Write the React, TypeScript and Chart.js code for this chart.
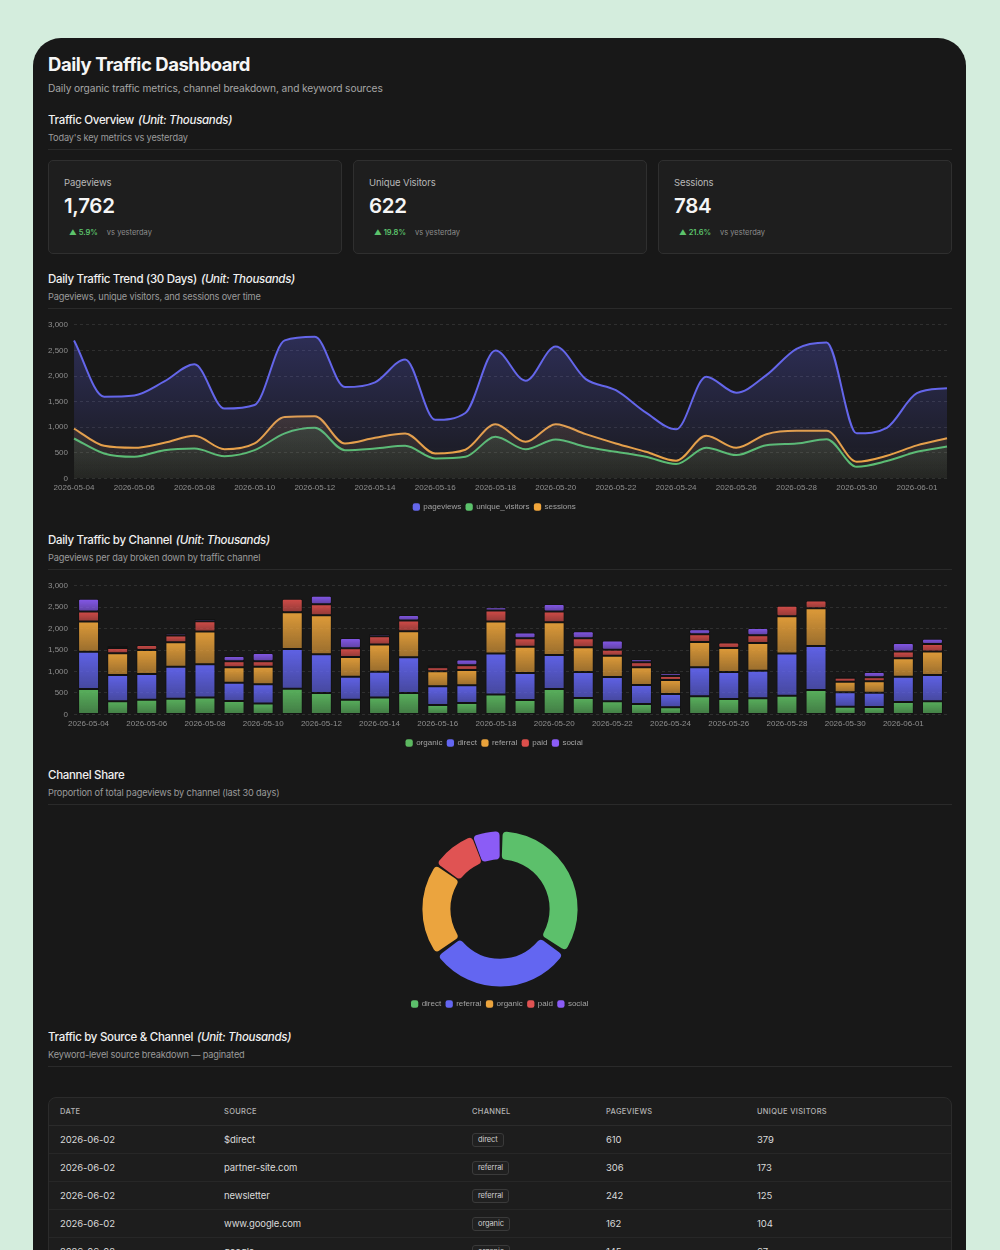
import React, { useEffect, useRef } from "react";
import { Chart, registerables } from "chart.js";

Chart.register(...registerables);

// ---- data ----
const days = [
  "2026-05-04", "2026-05-05", "2026-05-06", "2026-05-07", "2026-05-08", "2026-05-09",
  "2026-05-10", "2026-05-11", "2026-05-12", "2026-05-13", "2026-05-14", "2026-05-15",
  "2026-05-16", "2026-05-17", "2026-05-18", "2026-05-19", "2026-05-20", "2026-05-21",
  "2026-05-22", "2026-05-23", "2026-05-24", "2026-05-25", "2026-05-26", "2026-05-27",
  "2026-05-28", "2026-05-29", "2026-05-30", "2026-05-31", "2026-06-01", "2026-06-02",
];

const pageviews = [
  2695, 1597, 1620, 1893, 2228, 1363, 1433, 2695, 2765, 1784, 1877, 2321, 1145, 1278, 2500,
  1909, 2578, 1940, 1722, 1285, 958, 1987, 1675, 2018, 2532, 2656, 880, 989, 1664, 1762,
];
const uniqueVisitors = [
  779, 487, 422, 552, 584, 435, 552, 880, 987, 552, 584, 636, 390, 422, 812,
  571, 760, 617, 520, 422, 279, 597, 455, 649, 682, 766, 227, 338, 519, 622,
];
const sessions = [
  974, 636, 597, 695, 831, 571, 682, 1201, 1214, 682, 792, 877, 487, 560, 1059,
  714, 1059, 864, 682, 520, 344, 831, 597, 864, 929, 929, 325, 442, 645, 784,
];

const organic = [
  592, 304, 343, 366, 397, 312, 257, 600, 499, 343, 397, 499, 218, 265, 467,
  335, 592, 382, 304, 241, 164, 421, 358, 374, 436, 569, 179, 171, 288, 307,
];
const direct = [
  872, 615, 600, 748, 772, 428, 444, 927, 903, 537, 600, 833, 436, 413, 951,
  631, 795, 607, 568, 445, 311, 677, 631, 646, 982, 1028, 335, 335, 592, 610,
];
const referral = [
  702, 507, 560, 569, 763, 358, 413, 857, 912, 460, 631, 608, 351, 358, 748,
  615, 763, 577, 499, 412, 327, 592, 561, 647, 872, 880, 249, 265, 429, 548,
];
const paid = [
  234, 124, 117, 155, 241, 141, 125, 311, 257, 202, 195, 249, 93, 109, 257,
  195, 249, 210, 140, 117, 94, 180, 125, 179, 242, 179, 94, 94, 156, 179,
];
const social = [
  295, 47, 0, 55, 55, 124, 194, 0, 194, 242, 54, 132, 47, 133, 77,
  133, 179, 164, 211, 70, 62, 117, 0, 172, 0, 0, 23, 124, 199, 118,
];

const channelNames = ["organic", "direct", "referral", "paid", "social"];
const channelSeries = [organic, direct, referral, paid, social];
const channelRGB = ["92,184,96", "99,102,241", "233,162,59", "220,79,75", "139,92,246"];

const shareLabels = ["direct", "referral", "organic", "paid", "social"];
const shareSeries = [direct, referral, organic, paid, social];
const shareColors = ["#5cc06b", "#6366f1", "#eba43e", "#e05353", "#8b5cf6"];

const kpiLabels = ["Pageviews", "Unique Visitors", "Sessions"];
const kpiValues = ["1,762", "622", "784"];
const kpiChanges = ["5.9%", "19.8%", "21.6%"];

const tableDates = ["2026-06-02", "2026-06-02", "2026-06-02", "2026-06-02", "2026-06-02"];
const tableSources = ["$direct", "partner-site.com", "newsletter", "www.google.com", "google"];
const tableChannels = ["direct", "referral", "referral", "organic", "organic"];
const tablePageviews = [610, 306, 242, 162, 145];
const tableVisitors = [379, 173, 125, 104, 67];

// ---- shared chart styling ----
const FONT = "Inter, 'Noto Sans', 'DejaVu Sans', sans-serif";
const CHART_FONT = "'Helvetica Neue', Helvetica, Arial, 'Liberation Sans', sans-serif";
Chart.defaults.font.family = CHART_FONT;
Chart.defaults.color = "#8f8f8f";

const TICK = "#8e8e8e";

const gridY = {
  color: "rgba(255,255,255,0.10)",
  drawTicks: false,
};

const legendOpts = (items: { text: string; color: string }[]) => ({
  position: "bottom" as const,
  labels: {
    usePointStyle: true,
    pointStyle: "rectRounded",
    boxWidth: 6,
    boxHeight: 6,
    padding: 5,
    color: "#a3a3a3",
    font: { size: 8 },
    generateLabels: () =>
      items.map((it, i) => ({
        text: it.text,
        fillStyle: it.color,
        strokeStyle: it.color,
        fontColor: "#a3a3a3",
        lineWidth: 0,
        pointStyle: "rectRounded",
        hidden: false,
        datasetIndex: i,
        index: i,
      })),
  },
});

const areaFill = (rgb: string, topA: number, botA: number) => (ctx: any) => {
  const chart = ctx.chart;
  const a = chart.chartArea;
  if (!a) return `rgba(${rgb},${topA})`;
  const g = chart.ctx.createLinearGradient(0, a.top, 0, a.bottom);
  g.addColorStop(0, `rgba(${rgb},${topA})`);
  g.addColorStop(1, `rgba(${rgb},${botA})`);
  return g;
};

// each stacked segment fades from bright top to a deeper bottom
const segmentFill = (d: number) => (ctx: any) => {
  const rgb = channelRGB[d];
  const chart = ctx.chart;
  const solid = `rgba(${rgb},0.95)`;
  if (!chart.chartArea || ctx.type !== "data") return solid;
  const y = chart.scales.y;
  const i = ctx.dataIndex;
  let lo = 0;
  for (let k = 0; k < d; k++) lo += channelSeries[k][i];
  const hi = lo + channelSeries[d][i];
  const top = y.getPixelForValue(hi);
  const bot = y.getPixelForValue(lo);
  if (!isFinite(top) || !isFinite(bot) || bot - top < 1) return solid;
  const g = chart.ctx.createLinearGradient(0, top, 0, bot);
  g.addColorStop(0, `rgba(${rgb},0.95)`);
  g.addColorStop(1, `rgba(${rgb},0.62)`);
  return g;
};

function useChart(build: (c: HTMLCanvasElement) => Chart) {
  const ref = useRef<HTMLCanvasElement | null>(null);
  useEffect(() => {
    if (!ref.current) return;
    const chart = build(ref.current);
    return () => chart.destroy();
  }, []);
  return ref;
}

const axisX = (stacked: boolean) => ({
  stacked,
  grid: { display: false, drawTicks: false },
  border: { display: false },
  ticks: { font: { size: 8 }, color: TICK, maxRotation: 0, padding: 5 },
});
const axisY = (stacked: boolean) => ({
  stacked,
  beginAtZero: true,
  max: 3000,
  grid: gridY,
  border: { display: false, dash: [3, 3] },
  ticks: { stepSize: 500, font: { size: 8 }, color: TICK, padding: 6 },
});

const chartBox = (height: number, mt: number): React.CSSProperties => ({
  position: "relative",
  height,
  marginTop: mt,
  marginLeft: -6,
});

function TrendChart() {
  const ref = useChart(
    (c) =>
      new Chart(c, {
        type: "line",
        data: {
          labels: days,
          datasets: [
            {
              label: "pageviews",
              data: pageviews,
              borderColor: "#6466ea",
              backgroundColor: areaFill("99,102,241", 0.3, 0.03),
              fill: "origin",
              borderWidth: 2,
              cubicInterpolationMode: "monotone",
              pointRadius: 0,
            },
            {
              label: "unique_visitors",
              data: uniqueVisitors,
              borderColor: "#5bc26b",
              backgroundColor: areaFill("91,194,107", 0.3, 0.04),
              fill: "origin",
              borderWidth: 2,
              cubicInterpolationMode: "monotone",
              pointRadius: 0,
            },
            {
              label: "sessions",
              data: sessions,
              borderColor: "#f2a63b",
              backgroundColor: areaFill("242,166,59", 0.3, 0.04),
              fill: "origin",
              borderWidth: 2,
              cubicInterpolationMode: "monotone",
              pointRadius: 0,
            },
          ],
        },
        options: {
          responsive: true,
          maintainAspectRatio: false,
          animation: false,
          layout: { padding: { right: 5 } },
          plugins: {
            legend: legendOpts([
              { text: "pageviews", color: "#6466ea" },
              { text: "unique_visitors", color: "#5bc26b" },
              { text: "sessions", color: "#f2a63b" },
            ]),
            tooltip: { enabled: false },
          },
          scales: { x: axisX(false), y: axisY(false) },
        },
      })
  );
  return (
    <div style={chartBox(207, 5)}>
      <canvas ref={ref} />
    </div>
  );
}

function ChannelBars() {
  const ref = useChart(
    (c) =>
      new Chart(c, {
        type: "bar",
        data: {
          labels: days,
          datasets: channelNames.map((name, d) => ({
            label: name,
            data: channelSeries[d],
            backgroundColor: segmentFill(d),
            borderColor: "rgba(15,15,15,0.55)",
            borderWidth: 1,
            borderRadius: 2,
            borderSkipped: false,
          })),
        },
        options: {
          responsive: true,
          maintainAspectRatio: false,
          animation: false,
          layout: { padding: { right: 5 } },
          plugins: {
            legend: legendOpts(
              channelNames.map((n, i) => ({ text: n, color: `rgb(${channelRGB[i]})` }))
            ),
            tooltip: { enabled: false },
          },
          scales: { x: axisX(true), y: axisY(true) },
        },
      })
  );
  return (
    <div style={chartBox(182, 5)}>
      <canvas ref={ref} />
    </div>
  );
}

function ShareDonut() {
  const ref = useChart((c) => {
    const totals = shareSeries.map((s) => s.reduce((a, b) => a + b, 0));
    return new Chart(c, {
      type: "doughnut",
      data: {
        labels: shareLabels,
        datasets: [
          {
            data: totals,
            backgroundColor: shareColors,
            borderWidth: 0,
            spacing: 4,
            borderRadius: 4,
            radius: "90%",
          },
        ],
      },
      options: {
        responsive: true,
        maintainAspectRatio: false,
        animation: false,
        cutout: "63%",
        layout: { padding: { top: 10, bottom: 6 } },
        plugins: {
          legend: legendOpts(shareLabels.map((t, i) => ({ text: t, color: shareColors[i] }))),
          tooltip: { enabled: false },
        },
      },
    });
  });
  return (
    <div style={{ position: "relative", height: 211, marginTop: 8 }}>
      <canvas ref={ref} />
    </div>
  );
}

function SectionHead({ title, unit, sub, mt }: { title: string; unit?: boolean; sub: string; mt: number }) {
  return (
    <div style={{ marginTop: mt }}>
      <div style={{ fontSize: 11.5, lineHeight: "16px", fontWeight: 500, color: "#f0f0f0", letterSpacing: -0.3 }}>
        {title}
        {unit && (
          <i style={{ fontWeight: 500, marginLeft: 4 }}>(Unit: Thousands)</i>
        )}
      </div>
      <div style={{ fontSize: 9.2, lineHeight: "13px", color: "#9b9b9b", marginTop: 3, letterSpacing: -0.15 }}>
        {sub}
      </div>
      <div style={{ height: 1, background: "#2a2a2a", marginTop: 5 }} />
    </div>
  );
}

function KpiCards() {
  return (
    <div style={{ display: "flex", gap: 11, marginTop: 10 }}>
      {kpiLabels.map((label, i) => (
        <div
          key={label}
          style={{
            flex: 1,
            height: 94,
            boxSizing: "border-box",
            background: "#1e1e1e",
            border: "1px solid #2f2f2f",
            borderRadius: 5,
            padding: "16px 15px",
          }}
        >
          <div style={{ fontSize: 9.5, lineHeight: "12px", color: "#b8b8b8", letterSpacing: -0.1 }}>{label}</div>
          <div
            style={{
              fontSize: 20.5,
              lineHeight: "26px",
              fontWeight: 600,
              color: "#f5f5f5",
              marginTop: 4,
              letterSpacing: -0.3,
            }}
          >
            {kpiValues[i]}
          </div>
          <div style={{ display: "flex", alignItems: "center", marginTop: 7, height: 12, fontSize: 7.5 }}>
            <span style={{ color: "#5cc36c", fontWeight: 600, padding: "0 5px" }}>▲ {kpiChanges[i]}</span>
            <span style={{ color: "#8c8c8c", marginLeft: 4 }}>vs yesterday</span>
          </div>
        </div>
      ))}
    </div>
  );
}

const colWidths = [164, 248, 134, 151, 205];

function SourceTable() {
  const heads = ["DATE", "SOURCE", "CHANNEL", "PAGEVIEWS", "UNIQUE VISITORS"];
  const cell = (w: number): React.CSSProperties => ({
    width: w,
    paddingLeft: 11,
    boxSizing: "border-box",
    flexShrink: 0,
  });
  return (
    <div
      style={{
        marginTop: 30,
        border: "1px solid #2b2b2b",
        borderRadius: 8,
        background: "#1d1d1d",
        overflow: "hidden",
      }}
    >
      <div
        style={{
          display: "flex",
          alignItems: "center",
          height: 27,
          borderBottom: "1px solid #2b2b2b",
          fontSize: 7.5,
          fontWeight: 500,
          letterSpacing: 0.3,
          color: "#b3b3b3",
        }}
      >
        {heads.map((h, i) => (
          <div key={h} style={cell(colWidths[i])}>
            {h}
          </div>
        ))}
      </div>
      {tableDates.map((d, r) => (
        <div
          key={r}
          style={{
            display: "flex",
            alignItems: "center",
            height: 27,
            borderBottom: "1px solid #272727",
            fontSize: 9.5,
            color: "#d9d9d9",
            letterSpacing: -0.1,
          }}
        >
          <div style={cell(colWidths[0])}>{d}</div>
          <div style={cell(colWidths[1])}>{tableSources[r]}</div>
          <div style={cell(colWidths[2])}>
            <span
              style={{
                display: "inline-block",
                fontSize: 7.5,
                lineHeight: "12px",
                padding: "0 5px",
                border: "1px solid #3a3a3a",
                borderRadius: 3,
                background: "#202020",
                color: "#cfcfcf",
              }}
            >
              {tableChannels[r]}
            </span>
          </div>
          <div style={cell(colWidths[3])}>{tablePageviews[r]}</div>
          <div style={cell(colWidths[4])}>{tableVisitors[r]}</div>
        </div>
      ))}
    </div>
  );
}

export default function App() {
  return (
    <div
      style={{
        background: "#d4eddd",
        height: 1250,
        overflow: "hidden",
        padding: "38px 34px 0 33px",
        boxSizing: "border-box",
        fontFamily: FONT,
      }}
    >
      <style>{"html,body{margin:0;overflow:hidden;}"}</style>
      <div
        style={{
          background: "#181818",
          borderRadius: "28px 28px 0 0",
          padding: "14px 14px 40px 15px",
          minHeight: 1300,
          boxSizing: "border-box",
        }}
      >
        <div style={{ fontSize: 18.5, lineHeight: "24px", fontWeight: 700, color: "#f5f5f5", letterSpacing: -0.45 }}>
          Daily Traffic Dashboard
        </div>
        <div style={{ fontSize: 10.2, lineHeight: "14px", color: "#a6a6a6", marginTop: 5, letterSpacing: -0.1 }}>
          Daily organic traffic metrics, channel breakdown, and keyword sources
        </div>

        <SectionHead title="Traffic Overview" unit sub="Today's key metrics vs yesterday" mt={17} />
        <KpiCards />

        <SectionHead
          title="Daily Traffic Trend (30 Days)"
          unit
          sub="Pageviews, unique visitors, and sessions over time"
          mt={17}
        />
        <TrendChart />

        <SectionHead
          title="Daily Traffic by Channel"
          unit
          sub="Pageviews per day broken down by traffic channel"
          mt={11}
        />
        <ChannelBars />

        <SectionHead title="Channel Share" sub="Proportion of total pageviews by channel (last 30 days)" mt={10} />
        <ShareDonut />

        <SectionHead
          title="Traffic by Source & Channel"
          unit
          sub="Keyword-level source breakdown — paginated"
          mt={5}
        />
        <SourceTable />
      </div>
    </div>
  );
}
